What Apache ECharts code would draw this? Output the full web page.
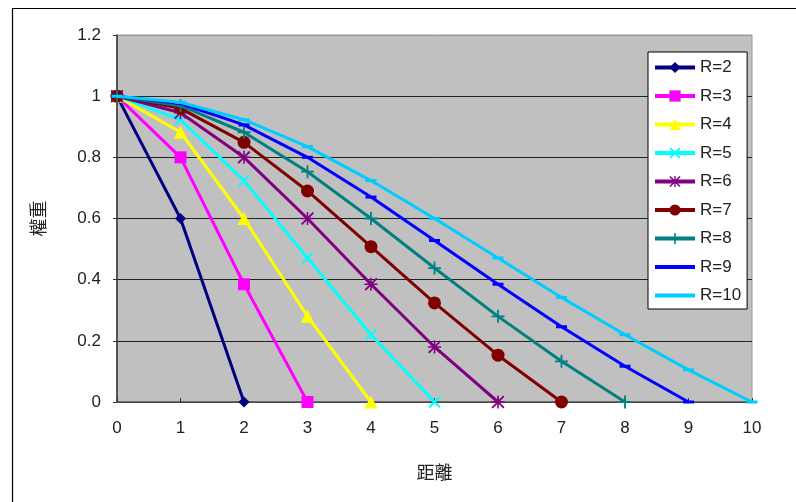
<!DOCTYPE html>
<html>
<head>
<meta charset="utf-8">
<script src="https://cdn.jsdelivr.net/npm/echarts@6/dist/echarts.min.js"></script>
<style>
  html, body { margin: 0; padding: 0; background: #fff; }
  #chart { width: 796px; height: 502px; }
</style>
</head>
<body>
<div id="chart"></div>
<script>
// Distance values along the x axis
const distances = [0, 1, 2, 3, 4, 5, 6, 7, 8, 9, 10];

// Weight per distance for each radius R
const weightR2  = [1, 0.6, 0];
const weightR3  = [1, 0.8, 0.385, 0];
const weightR4  = [1, 0.882, 0.6, 0.28, 0];
const weightR5  = [1, 0.923, 0.724, 0.471, 0.22, 0];
const weightR6  = [1, 0.946, 0.8, 0.6, 0.385, 0.18, 0];
const weightR7  = [1, 0.96, 0.849, 0.69, 0.508, 0.324, 0.153, 0];
const weightR8  = [1, 0.969, 0.882, 0.753, 0.6, 0.438, 0.28, 0.133, 0];
const weightR9  = [1, 0.976, 0.906, 0.8, 0.67, 0.528, 0.385, 0.246, 0.117, 0];
const weightR10 = [1, 0.98, 0.923, 0.835, 0.724, 0.6, 0.471, 0.342, 0.22, 0.105, 0];

const seriesNames = ['R=2', 'R=3', 'R=4', 'R=5', 'R=6', 'R=7', 'R=8', 'R=9', 'R=10'];
const seriesWeights = [weightR2, weightR3, weightR4, weightR5, weightR6, weightR7, weightR8, weightR9, weightR10];

const yTicks = [0, 0.2, 0.4, 0.6, 0.8, 1, 1.2];

// Marker shapes
const crossPath = 'path://M0,1.2L1.2,0L10,8.8L8.8,10Z M8.8,0L10,1.2L1.2,10L0,8.8Z';
const plusPath = 'path://M4.3,0H5.7V10H4.3Z M0,4.3H10V5.7H0Z';
const starPath = 'path://M4.4,0H5.6V10H4.4Z M0,4.4H10V5.6H0Z M0,1L1,0L10,9L9,10Z M9,0L10,1L1,10L0,9Z';
const dashPath = 'path://M0,0H10V3H0Z';
// Plain thick line used as the legend icon for the dash-marked series
const legendBarPath = 'path://M0,0H40V4H0Z';

const styles = [
  { color: '#000080', symbol: 'diamond', size: 11 },
  { color: '#FF00FF', symbol: 'rect', size: 12 },
  { color: '#FFFF00', symbol: 'triangle', size: 13 },
  { color: '#00FFFF', symbol: crossPath, size: 12 },
  { color: '#800080', symbol: starPath, size: 13 },
  { color: '#800000', symbol: 'circle', size: 13 },
  { color: '#008080', symbol: plusPath, size: 13 },
  { color: '#0000FF', symbol: dashPath, size: [11, 3] },
  { color: '#00CCFF', symbol: dashPath, size: [11, 3] }
];

const series = seriesNames.map((name, k) => ({
  name: name,
  type: 'line',
  data: seriesWeights[k].map((w, i) => [distances[i], w]),
  symbol: styles[k].symbol,
  symbolSize: styles[k].size,
  showAllSymbol: true,
  lineStyle: { color: styles[k].color, width: 3 },
  itemStyle: { color: styles[k].color, borderWidth: 0 },
  emphasis: { disabled: true },
  animation: false,
  z: 2 + k
}));

const legendData = seriesNames.map((name, k) =>
  styles[k].symbol === dashPath ? { name: name, icon: legendBarPath } : { name: name }
);

const chart = echarts.init(document.getElementById('chart'), null, { renderer: 'canvas' });

chart.setOption({
  animation: false,
  textStyle: { fontFamily: '"Liberation Sans", Arial, sans-serif' },
  graphic: [{
    type: 'polyline',
    shape: { points: [[12.5, 502], [12.5, 8.5], [796, 8.5]] },
    style: { stroke: '#000', lineWidth: 1.2, fill: null },
    silent: true
  }],
  grid: {
    left: 117, right: 44, top: 35, bottom: 100,
    show: true,
    backgroundColor: '#C0C0C0',
    borderColor: '#9a9a9a',
    borderWidth: 1
  },
  legend: {
    orient: 'vertical',
    left: 648,
    top: 52,
    data: legendData,
    backgroundColor: '#fff',
    borderColor: '#000',
    borderWidth: 1,
    borderRadius: 0,
    padding: [7, 6, 5, 5],
    itemWidth: 40,
    itemHeight: 14,
    itemGap: 11.5,
    lineStyle: { width: 4 },
    textStyle: { fontSize: 17, color: '#222', fontFamily: '"Liberation Sans", Arial, sans-serif' }
  },
  xAxis: {
    type: 'value',
    min: 0, max: 10, interval: 1,
    name: '距離',
    nameLocation: 'middle',
    nameGap: 61,
    nameTextStyle: { fontSize: 18, color: '#222', fontFamily: '"Noto Sans CJK TC", sans-serif' },
    axisLine: { show: true, onZero: false, lineStyle: { color: '#555', width: 1.5 } },
    axisTick: { show: true, inside: true, length: 4, lineStyle: { color: '#333' } },
    axisLabel: { fontSize: 17, color: '#222', margin: 18 },
    splitLine: { show: false }
  },
  yAxis: {
    type: 'value',
    min: 0, max: 1.2, interval: 0.2,
    name: '權重',
    nameLocation: 'middle',
    nameGap: 70,
    nameRotate: 90,
    nameTextStyle: { fontSize: 18, color: '#222', fontFamily: '"Noto Sans CJK TC", sans-serif' },
    axisLine: { show: true, lineStyle: { color: '#333', width: 1.5 } },
    axisTick: { show: true, inside: false, length: 4, lineStyle: { color: '#333' } },
    axisLabel: {
      fontSize: 17, color: '#222', margin: 16,
      formatter: v => {
        const t = yTicks.find(x => Math.abs(x - v) < 1e-9);
        return t === undefined ? '' : String(t);
      }
    },
    splitLine: {
      show: true,
      lineStyle: { color: ['#222', '#222', '#222', '#222', '#222', '#222', '#9a9a9a'], width: 1 }
    }
  },
  series: series
});
</script>
</body>
</html>
